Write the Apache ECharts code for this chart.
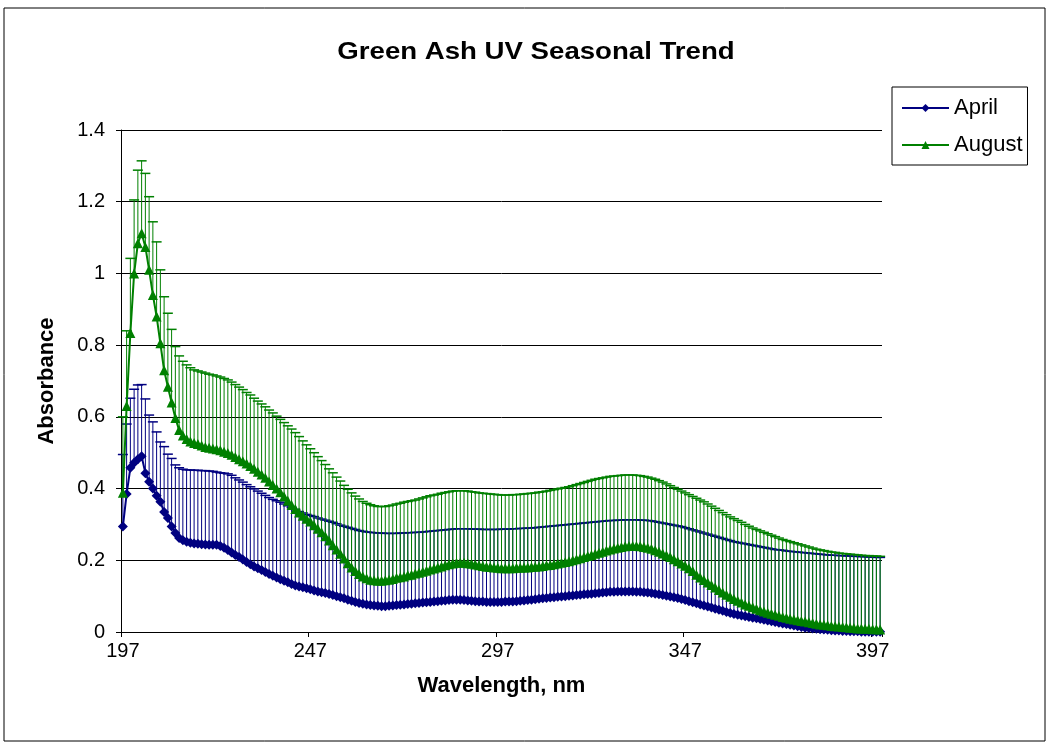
<!DOCTYPE html>
<html>
<head>
<meta charset="utf-8">
<title>Green Ash UV Seasonal Trend</title>
<script src="https://cdn.jsdelivr.net/npm/echarts@6/dist/echarts.min.js"></script>
<style>
  html, body { margin: 0; padding: 0; background: #fff; }
  #main { width: 1049px; height: 746px; }
</style>
</head>
<body>
<div id="main"></div>
<script>
// wavelengths 197..399 nm, one category per nm
const firstNm = 197;
const lastNm = 399;
const wavelengths = [];
for (let nm = firstNm; nm <= lastNm; nm++) wavelengths.push(String(nm));

// April mean absorbance
const aprilMean = [
  0.294, 0.385, 0.458, 0.472, 0.482, 0.490, 0.443, 0.419, 0.400, 0.380,
  0.363, 0.335, 0.318, 0.294, 0.276, 0.262, 0.256, 0.252, 0.249, 0.247,
  0.246, 0.245, 0.244, 0.243, 0.243, 0.243, 0.240, 0.235, 0.229, 0.222,
  0.215, 0.209, 0.202, 0.195, 0.189, 0.183, 0.178, 0.173, 0.167, 0.162,
  0.157, 0.152, 0.147, 0.143, 0.139, 0.134, 0.130, 0.127, 0.125, 0.122,
  0.119, 0.116, 0.113, 0.111, 0.109, 0.106, 0.103, 0.100, 0.097, 0.094,
  0.090, 0.087, 0.084, 0.081, 0.079, 0.077, 0.075, 0.074, 0.073, 0.072,
  0.072, 0.073, 0.074, 0.075, 0.076, 0.077, 0.078, 0.079, 0.080, 0.081,
  0.082, 0.083, 0.084, 0.085, 0.086, 0.087, 0.088, 0.089, 0.090, 0.090,
  0.090, 0.089, 0.088, 0.087, 0.086, 0.085, 0.085, 0.084, 0.084, 0.084,
  0.084, 0.084, 0.085, 0.085, 0.085, 0.086, 0.087, 0.088, 0.089, 0.090,
  0.091, 0.093, 0.094, 0.095, 0.096, 0.097, 0.098, 0.099, 0.100, 0.101,
  0.102, 0.103, 0.104, 0.105, 0.106, 0.107, 0.108, 0.109, 0.110, 0.111,
  0.112, 0.112, 0.113, 0.113, 0.113, 0.113, 0.113, 0.112, 0.112, 0.111,
  0.110, 0.109, 0.107, 0.105, 0.103, 0.101, 0.099, 0.097, 0.095, 0.092,
  0.089, 0.086, 0.083, 0.080, 0.077, 0.074, 0.071, 0.068, 0.065, 0.062,
  0.059, 0.056, 0.053, 0.050, 0.048, 0.046, 0.044, 0.042, 0.040, 0.038,
  0.036, 0.034, 0.032, 0.030, 0.028, 0.026, 0.024, 0.022, 0.020, 0.018,
  0.016, 0.014, 0.012, 0.011, 0.010, 0.009, 0.008, 0.007, 0.006, 0.005,
  0.004, 0.004, 0.003, 0.003, 0.002, 0.002, 0.002, 0.001, 0.001, 0.001,
  0.001, 0.001, 0.001
];

// top of the April error bars
const aprilUpper = [
  0.495, 0.580, 0.652, 0.677, 0.689, 0.690, 0.650, 0.605, 0.586, 0.558,
  0.530, 0.517, 0.496, 0.484, 0.466, 0.458, 0.454, 0.452, 0.452, 0.451,
  0.451, 0.450, 0.450, 0.449, 0.448, 0.446, 0.444, 0.443, 0.441, 0.437,
  0.430, 0.424, 0.418, 0.411, 0.405, 0.399, 0.393, 0.387, 0.381, 0.375,
  0.370, 0.366, 0.362, 0.357, 0.352, 0.347, 0.342, 0.336, 0.332, 0.328,
  0.325, 0.322, 0.318, 0.315, 0.312, 0.309, 0.306, 0.302, 0.298, 0.295,
  0.292, 0.289, 0.286, 0.283, 0.281, 0.279, 0.278, 0.277, 0.276, 0.276,
  0.275, 0.275, 0.275, 0.275, 0.276, 0.276, 0.277, 0.277, 0.278, 0.278,
  0.279, 0.280, 0.281, 0.282, 0.283, 0.284, 0.285, 0.286, 0.287, 0.288,
  0.288, 0.288, 0.288, 0.287, 0.287, 0.287, 0.286, 0.286, 0.286, 0.286,
  0.286, 0.287, 0.287, 0.287, 0.288, 0.288, 0.289, 0.289, 0.290, 0.290,
  0.291, 0.292, 0.293, 0.294, 0.295, 0.296, 0.297, 0.298, 0.299, 0.300,
  0.301, 0.302, 0.303, 0.304, 0.305, 0.306, 0.307, 0.308, 0.309, 0.310,
  0.311, 0.311, 0.312, 0.312, 0.313, 0.313, 0.313, 0.313, 0.312, 0.312,
  0.311, 0.310, 0.308, 0.306, 0.304, 0.302, 0.300, 0.298, 0.296, 0.294,
  0.291, 0.288, 0.285, 0.282, 0.279, 0.276, 0.273, 0.270, 0.267, 0.264,
  0.261, 0.258, 0.255, 0.252, 0.250, 0.248, 0.246, 0.244, 0.242, 0.240,
  0.238, 0.236, 0.234, 0.232, 0.230, 0.229, 0.228, 0.226, 0.225, 0.224,
  0.223, 0.222, 0.221, 0.220, 0.219, 0.218, 0.217, 0.216, 0.215, 0.214,
  0.214, 0.213, 0.213, 0.212, 0.212, 0.211, 0.211, 0.210, 0.210, 0.209,
  0.209, 0.208, 0.208
];

// August mean absorbance
const augustMean = [
  0.388, 0.630, 0.834, 1.000, 1.084, 1.112, 1.074, 1.010, 0.940, 0.880,
  0.805, 0.730, 0.684, 0.640, 0.597, 0.563, 0.548, 0.538, 0.531, 0.527,
  0.524, 0.520, 0.516, 0.514, 0.512, 0.510, 0.507, 0.503, 0.499, 0.494,
  0.488, 0.482, 0.476, 0.470, 0.463, 0.455, 0.447, 0.439, 0.430, 0.420,
  0.410, 0.400, 0.390, 0.378, 0.366, 0.354, 0.343, 0.333, 0.324, 0.316,
  0.308, 0.298, 0.288, 0.278, 0.267, 0.255, 0.242, 0.230, 0.218, 0.205,
  0.192, 0.180, 0.170, 0.162, 0.155, 0.150, 0.146, 0.144, 0.143, 0.143,
  0.144, 0.146, 0.148, 0.151, 0.153, 0.155, 0.158, 0.160, 0.163, 0.165,
  0.168, 0.171, 0.174, 0.177, 0.180, 0.183, 0.186, 0.189, 0.191, 0.193,
  0.193, 0.193, 0.192, 0.190, 0.188, 0.186, 0.184, 0.182, 0.181, 0.180,
  0.179, 0.178, 0.178, 0.178, 0.178, 0.179, 0.179, 0.180, 0.180, 0.181,
  0.182, 0.183, 0.184, 0.186, 0.187, 0.189, 0.191, 0.193, 0.195, 0.197,
  0.200, 0.203, 0.206, 0.209, 0.212, 0.215, 0.218, 0.221, 0.224, 0.227,
  0.230, 0.233, 0.235, 0.237, 0.239, 0.240, 0.240, 0.240, 0.239, 0.237,
  0.235, 0.232, 0.228, 0.224, 0.219, 0.214, 0.209, 0.203, 0.197, 0.191,
  0.185, 0.178, 0.170, 0.160, 0.152, 0.145, 0.138, 0.131, 0.124, 0.117,
  0.110, 0.104, 0.098, 0.092, 0.087, 0.082, 0.077, 0.073, 0.069, 0.065,
  0.061, 0.057, 0.054, 0.051, 0.048, 0.045, 0.042, 0.040, 0.037, 0.035,
  0.033, 0.031, 0.029, 0.027, 0.025, 0.023, 0.021, 0.020, 0.019, 0.017,
  0.016, 0.015, 0.014, 0.013, 0.012, 0.011, 0.010, 0.010, 0.009, 0.009,
  0.008, 0.008, 0.007
];

// top of the August error bars
const augustUpper = [
  0.600, 0.840, 1.042, 1.205, 1.288, 1.314, 1.279, 1.214, 1.144, 1.088,
  1.010, 0.935, 0.889, 0.844, 0.796, 0.770, 0.755, 0.745, 0.737, 0.731,
  0.728, 0.725, 0.722, 0.719, 0.717, 0.714, 0.711, 0.707, 0.703, 0.697,
  0.690, 0.683, 0.676, 0.668, 0.661, 0.652, 0.644, 0.636, 0.628, 0.619,
  0.611, 0.602, 0.593, 0.584, 0.575, 0.566, 0.556, 0.545, 0.533, 0.522,
  0.511, 0.500, 0.489, 0.478, 0.467, 0.455, 0.444, 0.432, 0.421, 0.409,
  0.398, 0.388, 0.379, 0.371, 0.364, 0.359, 0.355, 0.352, 0.350, 0.350,
  0.350, 0.352, 0.354, 0.357, 0.359, 0.362, 0.364, 0.366, 0.368, 0.371,
  0.374, 0.377, 0.380, 0.382, 0.384, 0.387, 0.389, 0.391, 0.393, 0.394,
  0.394, 0.394, 0.393, 0.391, 0.390, 0.388, 0.387, 0.386, 0.385, 0.384,
  0.383, 0.382, 0.382, 0.382, 0.383, 0.383, 0.384, 0.385, 0.386, 0.387,
  0.388, 0.390, 0.391, 0.393, 0.395, 0.397, 0.399, 0.401, 0.403, 0.405,
  0.408, 0.411, 0.414, 0.417, 0.420, 0.423, 0.426, 0.428, 0.430, 0.432,
  0.434, 0.435, 0.436, 0.437, 0.438, 0.438, 0.438, 0.437, 0.436, 0.434,
  0.432, 0.429, 0.426, 0.422, 0.418, 0.413, 0.408, 0.403, 0.398, 0.393,
  0.388, 0.383, 0.378, 0.373, 0.368, 0.363, 0.357, 0.351, 0.345, 0.339,
  0.333, 0.327, 0.321, 0.316, 0.311, 0.306, 0.300, 0.295, 0.290, 0.286,
  0.282, 0.278, 0.274, 0.270, 0.266, 0.262, 0.258, 0.255, 0.252, 0.249,
  0.246, 0.243, 0.240, 0.237, 0.234, 0.231, 0.229, 0.227, 0.225, 0.223,
  0.222, 0.220, 0.219, 0.218, 0.217, 0.216, 0.215, 0.214, 0.213, 0.213,
  0.212, 0.212, 0.211
];

const yTicks = { min: 0, max: 1.4, step: 0.2 };

const NAVY = '#000080';
const GREEN = '#008000';
const FONT = '"Liberation Sans", Arial, sans-serif';

const chart = echarts.init(document.getElementById('main'), null, { renderer: 'canvas' });

// vertical bar from mean up to the upper value, with a cap on top
function errorBars(color) {
  return function (params, api) {
    const i = api.value(0);
    const lo = api.coord([i, api.value(1)]);
    const hi = api.coord([i, api.value(2)]);
    const half = 5;
    return {
      type: 'group',
      children: [
        { type: 'line', shape: { x1: lo[0], y1: lo[1], x2: hi[0], y2: hi[1] },
          style: { stroke: color, lineWidth: 1 } },
        { type: 'line', shape: { x1: hi[0] - half, y1: hi[1], x2: hi[0] + half, y2: hi[1] },
          style: { stroke: color, lineWidth: 1.5 } }
      ]
    };
  };
}

const aprilBars = aprilMean.map((v, i) => [i, v, aprilUpper[i]]);
const augustBars = augustMean.map((v, i) => [i, v, augustUpper[i]]);

const option = {
  backgroundColor: '#fff',
  animation: false,
  textStyle: { fontFamily: FONT },
  graphic: [
    { type: 'rect', shape: { x: 4, y: 8, width: 1041, height: 733 },
      style: { fill: 'none', stroke: '#000', lineWidth: 1 }, silent: true },
    { type: 'text', x: 536, y: 52, scaleX: 1.15,
      style: { text: 'Green Ash UV Seasonal Trend', font: 'bold 24px ' + FONT,
               fill: '#000', textAlign: 'center', textVerticalAlign: 'middle' } }
  ],
  legend: {
    data: ['April', 'August'],
    orient: 'vertical',
    left: 892,
    top: 87,
    padding: [10, 5, 9, 9],
    itemGap: 15,
    itemWidth: 47,
    itemHeight: 10,
    borderColor: '#000',
    borderWidth: 1,
    textStyle: { fontSize: 22, color: '#000', fontFamily: FONT }
  },
  grid: { left: 121, right: 167, top: 130, bottom: 114 },
  xAxis: {
    type: 'category',
    data: wavelengths,
    boundaryGap: true,
    name: 'Wavelength, nm',
    nameLocation: 'middle',
    nameGap: 43,
    nameTextStyle: { fontSize: 22, fontWeight: 'bold', color: '#000', fontFamily: FONT },
    axisLine: { lineStyle: { color: '#000', width: 1 } },
    axisTick: { show: true, interval: 49, length: 5, lineStyle: { color: '#000' } },
    axisLabel: { interval: 49, fontSize: 20, color: '#000', margin: 9, fontFamily: FONT },
    splitLine: { show: false }
  },
  yAxis: {
    type: 'value',
    min: yTicks.min,
    max: yTicks.max,
    interval: yTicks.step,
    name: 'Absorbance',
    nameLocation: 'middle',
    nameGap: 63,
    nameTextStyle: { fontSize: 22, fontWeight: 'bold', color: '#000', fontFamily: FONT },
    axisLine: { show: true, lineStyle: { color: '#000', width: 1 } },
    axisTick: { show: true, length: 5, lineStyle: { color: '#000' } },
    axisLabel: { fontSize: 20, color: '#000', margin: 16, fontFamily: FONT },
    splitLine: { lineStyle: { color: '#000', width: 1 } }
  },
  series: [
    {
      name: 'April error', type: 'custom', z: 2,
      renderItem: errorBars(NAVY), data: aprilBars, silent: true
    },
    {
      name: 'August error', type: 'custom', z: 3,
      renderItem: errorBars(GREEN), data: augustBars, silent: true
    },
    {
      name: 'April', type: 'line', z: 4, data: aprilMean,
      symbol: 'diamond', symbolSize: 10, showAllSymbol: true,
      lineStyle: { color: NAVY, width: 2 },
      itemStyle: { color: NAVY }
    },
    {
      name: 'August', type: 'line', z: 5, data: augustMean,
      symbol: 'triangle', symbolSize: 10, showAllSymbol: true,
      lineStyle: { color: GREEN, width: 2 },
      itemStyle: { color: GREEN }
    }
  ]
};

chart.setOption(option);
</script>
</body>
</html>
